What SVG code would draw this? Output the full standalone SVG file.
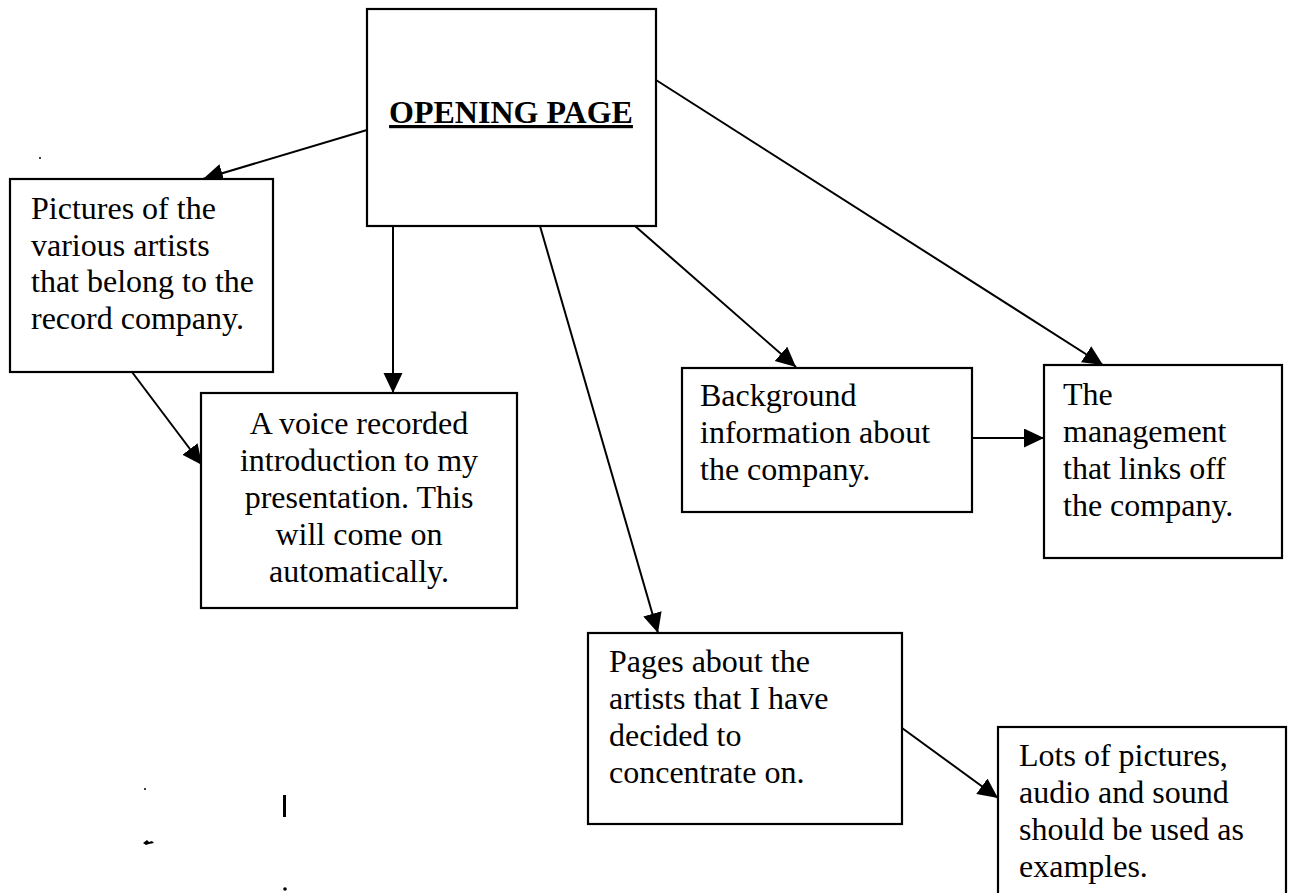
<svg xmlns="http://www.w3.org/2000/svg" width="1296" height="893" viewBox="0 0 1296 893">
<style>
.box{fill:#fff;stroke:#000;stroke-width:2.2}
.t{font-family:"Liberation Serif","Times New Roman",serif;font-size:32px;fill:#000}
.title{font-family:"Liberation Serif","Times New Roman",serif;font-size:32px;font-weight:bold;fill:#000}
.c{stroke:#000;stroke-width:2;fill:none;marker-end:url(#ah)}
</style>
<defs>
<marker id="ah" markerUnits="userSpaceOnUse" markerWidth="21" markerHeight="20" refX="20" refY="9.5" orient="auto">
<path d="M0,0 L20,9.5 L0,19 Z" fill="#000"/>
</marker>
</defs>
<rect width="1296" height="893" fill="#fff"/>
<g id="connectors">
<line class="c" x1="367" y1="130" x2="203" y2="179"/>
<line class="c" x1="393" y1="226" x2="393" y2="393"/>
<line class="c" x1="132" y1="372" x2="202" y2="465"/>
<line class="c" x1="540" y1="226" x2="658" y2="633"/>
<line class="c" x1="635" y1="226" x2="796" y2="367"/>
<line class="c" x1="656" y1="80" x2="1103" y2="365"/>
<line class="c" x1="972" y1="438" x2="1044" y2="438"/>
<line class="c" x1="902" y1="728" x2="998" y2="798"/>
</g>
<g id="opening">
<rect class="box" x="367" y="9" width="289" height="217"/>
<text class="title" x="511" y="123" text-anchor="middle" text-decoration="underline">OPENING PAGE</text>
</g>
<g id="pictures">
<rect class="box" x="10" y="179" width="263" height="193"/>
<text class="t" x="31" y="219">Pictures of the</text>
<text class="t" x="31" y="256">various artists</text>
<text class="t" x="31" y="292">that belong to the</text>
<text class="t" x="31" y="329">record company.</text>
</g>
<g id="voice">
<rect class="box" x="201" y="393" width="316" height="215"/>
<text class="t" x="359" y="434" text-anchor="middle">A voice recorded</text>
<text class="t" x="359" y="471" text-anchor="middle">introduction to my</text>
<text class="t" x="359" y="508" text-anchor="middle">presentation. This</text>
<text class="t" x="359" y="545" text-anchor="middle">will come on</text>
<text class="t" x="359" y="582" text-anchor="middle">automatically.</text>
</g>
<g id="background">
<rect class="box" x="682" y="368" width="290" height="144"/>
<text class="t" x="700" y="406">Background</text>
<text class="t" x="700" y="443">information about</text>
<text class="t" x="700" y="480">the company.</text>
</g>
<g id="management">
<rect class="box" x="1044" y="365" width="238" height="193"/>
<text class="t" x="1063" y="405">The</text>
<text class="t" x="1063" y="442">management</text>
<text class="t" x="1063" y="479">that links off</text>
<text class="t" x="1063" y="516">the company.</text>
</g>
<g id="pages">
<rect class="box" x="588" y="633" width="314" height="191"/>
<text class="t" x="609" y="672">Pages about the</text>
<text class="t" x="609" y="709">artists that I have</text>
<text class="t" x="609" y="746">decided to</text>
<text class="t" x="609" y="783">concentrate on.</text>
</g>
<g id="lots">
<rect class="box" x="998" y="727" width="288" height="180"/>
<text class="t" x="1019" y="766">Lots of pictures,</text>
<text class="t" x="1019" y="803">audio and sound</text>
<text class="t" x="1019" y="840">should be used as</text>
<text class="t" x="1019" y="877">examples.</text>
</g>
<g id="marks" fill="#000" stroke="none">
<rect x="283" y="795" width="3" height="22"/>
<circle cx="285" cy="889" r="1.8"/>
<circle cx="145" cy="789" r="1"/>
<circle cx="40" cy="158" r="1"/>
<path d="M143,843 l4,-3 l2,2 l3,-1 l2,2 l-5,1 l-3,1 z"/>
</g>
</svg>
